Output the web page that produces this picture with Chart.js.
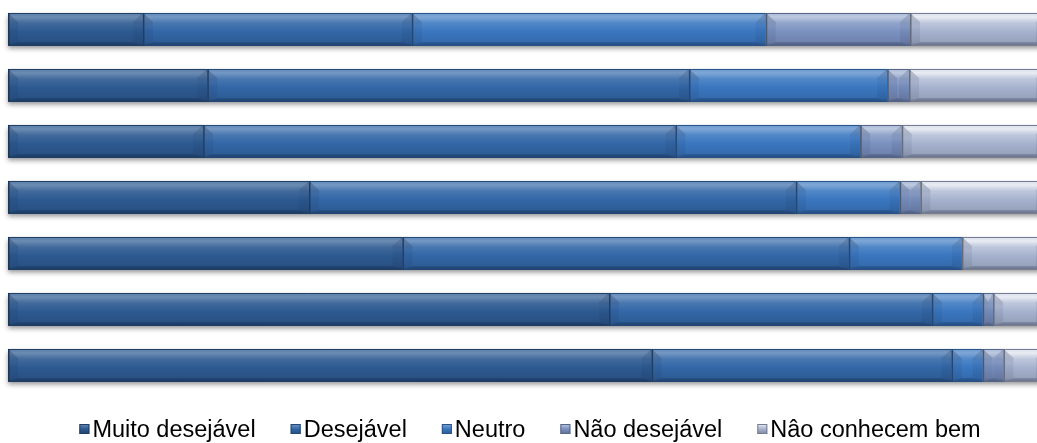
<!DOCTYPE html>
<html>
<head>
<meta charset="utf-8">
<script src="https://cdn.jsdelivr.net/npm/chart.js@4"></script>
<style>
  html, body { margin: 0; padding: 0; background: #ffffff; overflow: hidden; }
  #wrap { position: relative; width: 1046px; height: 443px; }
</style>
</head>
<body>
<div id="wrap"><canvas id="chart"></canvas></div>
<script>
// Rows of the 100% stacked bar chart, top to bottom
const categories = ['Item 1', 'Item 2', 'Item 3', 'Item 4', 'Item 5', 'Item 6', 'Item 7'];

// Answer categories (legend order)
const seriesNames = ['Muito desejável', 'Desejável', 'Neutro', 'Não desejável', 'Nâo conhecem bem'];

// Share of answers per row, in percent
const muitoDesejavel = [13.0, 19.2, 18.8, 29.0, 38.0, 57.9, 62.0];
const desejavel      = [25.9, 46.4, 45.5, 46.9, 43.0, 31.1, 28.9];
const neutro         = [34.1, 19.1, 17.8, 10.0, 10.9,  4.9,  3.0];
const naoDesejavel   = [13.9,  2.1,  4.0,  2.0,  0.0,  1.0,  2.0];
const naoConhecem    = [13.1, 13.2, 13.9, 12.1,  8.1,  5.1,  4.1];

const seriesValues = [muitoDesejavel, desejavel, neutro, naoDesejavel, naoConhecem];
const seriesColors = ['#2d5a91', '#3367a7', '#3a77c0', '#7b92c0', '#a7b3cf'];
// strength of the top highlight per series
const seriesGloss = [0.3, 0.32, 0.35, 0.5, 0.75];

function hexToRgb(h) {
  const n = parseInt(h.slice(1), 16);
  return [(n >> 16) & 255, (n >> 8) & 255, n & 255];
}
function mix(hex, target, t) {
  const c = hexToRgb(hex);
  const r = c.map(v => Math.round(v + (target - v) * t));
  return `rgb(${r[0]},${r[1]},${r[2]})`;
}
const lighten = (hex, t) => mix(hex, 255, t);
const darken = (hex, t) => mix(hex, 0, t);

// Bevelled segment painter
function paintBevel(ctx, l, r, t, b, color, gloss) {
  const w = r - l;
  if (w <= 0.5) return;
  const bw = Math.min(10, w / 2);
  const td = 9, bd = 4;

  // body
  const g = ctx.createLinearGradient(0, t, 0, b);
  g.addColorStop(0, lighten(color, gloss * 0.7));
  g.addColorStop(0.12, lighten(color, gloss));
  g.addColorStop(0.3, lighten(color, gloss * 0.35));
  g.addColorStop(0.55, color);
  g.addColorStop(0.88, darken(color, 0.1));
  g.addColorStop(1, darken(color, 0.28));
  ctx.fillStyle = g;
  ctx.fillRect(l, t, w, b - t);

  // left facet
  ctx.beginPath();
  ctx.moveTo(l, t);
  ctx.lineTo(l + bw, t + td);
  ctx.lineTo(l + bw, b - bd);
  ctx.lineTo(l, b);
  ctx.closePath();
  const lg = ctx.createLinearGradient(0, t, 0, b);
  lg.addColorStop(0, 'rgba(10,25,60,0.3)');
  lg.addColorStop(0.4, 'rgba(10,25,60,0.08)');
  lg.addColorStop(1, 'rgba(10,25,60,0.08)');
  ctx.fillStyle = lg;
  ctx.fill();

  // right facet
  ctx.beginPath();
  ctx.moveTo(r, t);
  ctx.lineTo(r - bw, t + td);
  ctx.lineTo(r - bw, b - bd);
  ctx.lineTo(r, b);
  ctx.closePath();
  const rg = ctx.createLinearGradient(0, t, 0, b);
  rg.addColorStop(0, 'rgba(10,25,60,0.22)');
  rg.addColorStop(0.4, 'rgba(10,25,60,0.05)');
  rg.addColorStop(1, 'rgba(10,25,60,0.1)');
  ctx.fillStyle = rg;
  ctx.fill();

  // bottom facet
  ctx.beginPath();
  ctx.moveTo(l, b);
  ctx.lineTo(l + bw, b - bd);
  ctx.lineTo(r - bw, b - bd);
  ctx.lineTo(r, b);
  ctx.closePath();
  ctx.fillStyle = 'rgba(0,10,40,0.15)';
  ctx.fill();

  // outline
  ctx.strokeStyle = darken(color, 0.3);
  ctx.lineWidth = 1;
  ctx.beginPath();
  ctx.moveTo(l, t + 0.5); ctx.lineTo(r, t + 0.5);
  ctx.moveTo(l, b - 0.5); ctx.lineTo(r, b - 0.5);
  ctx.stroke();
  ctx.strokeStyle = darken(color, 0.4);
  ctx.lineWidth = 1.5;
  ctx.beginPath();
  ctx.moveTo(l + 0.75, t); ctx.lineTo(l + 0.75, b);
  ctx.stroke();
}

const bevelPlugin = {
  id: 'bevel',
  beforeDatasetsDraw(chart) {
    const ctx = chart.ctx;
    const metas = chart.getSortedVisibleDatasetMetas();
    const area = chart.chartArea;
    ctx.save();
    metas[0].data.forEach(el => {
      const p = el.getProps(['y', 'height'], true);
      ctx.shadowColor = 'rgba(0,0,0,0.4)';
      ctx.shadowBlur = 5;
      ctx.shadowOffsetY = 3;
      ctx.fillStyle = '#8a8a8a';
      ctx.fillRect(area.left, p.y - p.height / 2, area.right - area.left, p.height);
    });
    ctx.restore();
  },
  afterDatasetsDraw(chart) {
    const ctx = chart.ctx;
    ctx.save();
    chart.getSortedVisibleDatasetMetas().forEach(meta => {
      const color = seriesColors[meta.index];
      const gloss = seriesGloss[meta.index];
      meta.data.forEach(el => {
        const p = el.getProps(['x', 'y', 'base', 'height'], true);
        const l = Math.min(p.x, p.base), r = Math.max(p.x, p.base);
        paintBevel(ctx, l, r, p.y - p.height / 2, p.y + p.height / 2, color, gloss);
      });
    });
    ctx.restore();
  },
  afterDraw(chart) {
    // legend row under the bars
    const ctx = chart.ctx;
    ctx.save();
    ctx.font = '23.5px "Liberation Sans", Arial, sans-serif';
    ctx.textBaseline = 'alphabetic';
    const box = 10, boxGap = 3, itemGap = 35;
    const widths = seriesNames.map(n => box + boxGap + ctx.measureText(n).width);
    const total = widths.reduce((a, b) => a + b, 0) + itemGap * (widths.length - 1);
    let x = 530 - total / 2;
    const baseline = 437;
    const by = 424;
    seriesNames.forEach((name, i) => {
      const c = seriesColors[i];
      const g = ctx.createLinearGradient(0, by, 0, by + box);
      g.addColorStop(0, lighten(c, seriesGloss[i]));
      g.addColorStop(0.5, c);
      g.addColorStop(1, darken(c, 0.25));
      ctx.fillStyle = g;
      ctx.fillRect(x, by, box, box);
      ctx.strokeStyle = darken(c, 0.3);
      ctx.lineWidth = 1;
      ctx.strokeRect(x + 0.5, by + 0.5, box - 1, box - 1);
      ctx.fillStyle = '#000000';
      ctx.fillText(name, x + box + boxGap, baseline);
      x += widths[i] + itemGap;
    });
    ctx.restore();
  }
};

new Chart(document.getElementById('chart'), {
  type: 'bar',
  data: {
    labels: categories,
    datasets: seriesNames.map((name, i) => ({
      label: name,
      data: seriesValues[i],
      backgroundColor: seriesColors[i],
      borderWidth: 0,
      categoryPercentage: 1,
      barPercentage: 0.59
    }))
  },
  options: {
    indexAxis: 'y',
    responsive: true,
    maintainAspectRatio: false,
    animation: false,
    layout: { padding: { left: 8, right: 0, top: 1.5, bottom: 49.5 } },
    scales: {
      x: { stacked: true, min: 0, max: 100, display: false },
      y: { stacked: true, display: false }
    },
    plugins: {
      legend: { display: false },
      tooltip: { enabled: false }
    }
  },
  plugins: [bevelPlugin]
});
</script>
</body>
</html>
